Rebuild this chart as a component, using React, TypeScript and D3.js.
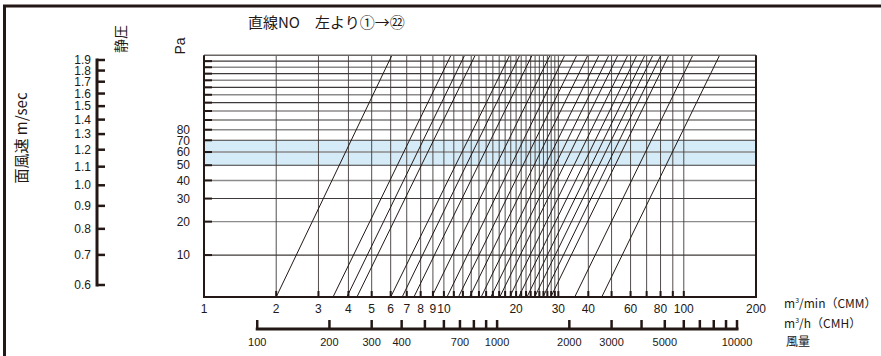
import React from 'react';
import * as d3 from 'd3';

// flow (m3/min) ticks on the bottom axis
const cmmLabels = [1, 2, 3, 4, 5, 6, 7, 8, 9, 10, 20, 30, 40, 60, 80, 100, 200];
const cmmGrid = [
  2, 3, 4, 5, 6, 7, 8, 9, 10, 11, 12, 13, 14, 15, 16, 17, 18, 19, 20,
  21, 22, 23, 24, 25, 26, 27, 28, 29, 30, 40, 50, 60, 70, 80, 90, 100,
];
// m3/h axis
const cmhTicks = [
  100, 200, 300, 400, 500, 600, 700, 800, 900, 1000,
  2000, 3000, 4000, 5000, 6000, 7000, 8000, 9000, 10000,
];
const cmhLabels = [100, 200, 300, 400, 700, 1000, 2000, 3000, 5000, 10000];
// static pressure (Pa)
const paLabels = [10, 20, 30, 40, 50, 60, 70, 80];
const paGrid = [10, 20, 30, 40, 50, 60, 70, 80, 90, 100, 110, 120, 130, 140, 150, 160, 170];
const paBand = [50, 70];
// face velocity (m/sec)
const velTicks = [0.6, 0.7, 0.8, 0.9, 1.0, 1.1, 1.2, 1.3, 1.4, 1.5, 1.6, 1.7, 1.8, 1.9];

// 22 product lines: flow where each line leaves the bottom edge / reaches the top edge
const lineLow = [
  2.0, 3.45, 3.94, 4.34, 6.0, 6.7, 7.5, 8.9, 10.3, 11.5, 12.8,
  14.3, 15.7, 17.1, 18.8, 20.5, 22.2, 23.9, 25.9, 27.9, 35.1, 45.5,
];
const lineHigh = [
  6.07, 10.7, 12.2, 13.5, 18.8, 20.7, 23.3, 27.7, 31.9, 35.8, 39.8,
  44.3, 48.7, 53.1, 58.4, 63.7, 68.8, 74.3, 80.2, 86.6, 109, 141,
];

const W = 881;
const H = 356;
const ink = '#231815';
const font = '"Liberation Sans", Arial, Helvetica, sans-serif';
const cjk = '"Noto Sans CJK JP", "Liberation Sans", sans-serif';

const plot = { left: 204, right: 756, top: 55.3, bottom: 297 };

export default function App() {
  const x = d3.scaleLog().domain([1, 200]).range([plot.left, plot.right]);
  const xCmh = d3.scaleLog().domain([60, 12000]).range([plot.left, plot.right]);
  const y = d3.scalePow().exponent(0.3).domain([3.2, 180]).range([plot.bottom, plot.top]);
  const yVel = d3.scaleLog().domain([0.6, 1.9]).range([285, 60]);

  const diag = d3.line<[number, number]>()
    .x(d => x(d[0]))
    .y(d => y(d[1]));
  const [paMin, paMax] = y.domain();

  const velX = 97;
  const cmhY = 329;

  return (
    <svg width={W} height={H} style={{ position: 'absolute', left: 0, top: 0, background: '#fff' }}>
      {/* outer frame */}
      <line x1={3} x2={W} y1={6} y2={6} stroke={ink} strokeWidth={3} />
      <line x1={4.5} x2={4.5} y1={5} y2={H} stroke={ink} strokeWidth={3} />

      {/* title */}
      <text x={248} y={28} fontFamily={cjk} fontSize={15} fill={ink}>直線NO　左より①→㉒</text>

      {/* rotated axis titles */}
      <text transform="translate(27,138) rotate(-90)" textAnchor="middle" fontFamily={cjk} fontSize={15} fill={ink}>面風速 m/sec</text>
      <text transform="translate(126,39) rotate(-90)" textAnchor="middle" fontFamily={cjk} fontSize={14} fill={ink}>静圧</text>
      <text transform="translate(185,46) rotate(-90)" textAnchor="middle" fontFamily={font} fontSize={14} fill={ink}>Pa</text>

      {/* velocity axis */}
      <g>
        <line x1={velX} x2={velX} y1={yVel(1.9) - 1.5} y2={yVel(0.6) + 1.5} stroke={ink} strokeWidth={3} />
        {velTicks.map(v => (
          <g key={v}>
            <line x1={velX} x2={velX + 8} y1={yVel(v)} y2={yVel(v)} stroke={ink} strokeWidth={2.5} />
            <text x={91} y={yVel(v)} dy="0.35em" textAnchor="end" fontFamily={font} fontSize={12} fill={ink}>
              {v.toFixed(1)}
            </text>
          </g>
        ))}
      </g>

      {/* band 50-70 Pa */}
      <rect x={plot.left} width={plot.right - plot.left} y={y(paBand[1])} height={y(paBand[0]) - y(paBand[1])} fill="#d5ecf8" />

      {/* horizontal grid */}
      {paGrid.map((p, i) => (
        <g key={p}>
          <line x1={plot.left} x2={plot.right} y1={y(p)} y2={y(p)} stroke={i % 2 ? '#8c8a8a' : '#3e3a39'} strokeWidth={i % 2 ? 1.4 : 1.1} />
          <line x1={plot.left} x2={plot.left + 8} y1={y(p)} y2={y(p)} stroke={ink} strokeWidth={2} />
        </g>
      ))}
      {paLabels.map(p => (
        <text key={p} x={190} y={y(p)} dy="0.35em" textAnchor="end" fontFamily={font} fontSize={12} fill={ink}>{p}</text>
      ))}

      {/* vertical grid */}
      {cmmGrid.map(q => (
        <g key={q}>
          <line x1={x(q)} x2={x(q)} y1={plot.top} y2={plot.bottom} stroke="#3e3a39" strokeWidth={0.9} />
          <line x1={x(q)} x2={x(q)} y1={plot.bottom - 6} y2={plot.bottom} stroke={ink} strokeWidth={2} />
        </g>
      ))}

      {/* product lines */}
      {lineLow.map((q, i) => (
        <path key={i} d={diag([[q, paMin], [lineHigh[i], paMax]]) ?? ''} fill="none" stroke={ink} strokeWidth={1} />
      ))}

      {/* plot frame */}
      <line x1={plot.left} x2={plot.right} y1={plot.top} y2={plot.top} stroke="#6a6665" strokeWidth={1.5} />
      <line x1={plot.left} x2={plot.left} y1={plot.top} y2={plot.bottom} stroke={ink} strokeWidth={2} />
      <line x1={plot.right} x2={plot.right} y1={plot.top} y2={plot.bottom} stroke={ink} strokeWidth={2} />
      <line x1={plot.left - 1} x2={plot.right + 1} y1={plot.bottom} y2={plot.bottom} stroke={ink} strokeWidth={2} />

      {/* CMM labels */}
      {cmmLabels.map(q => (
        <text key={q} x={x(q)} y={313} textAnchor="middle" fontFamily={font} fontSize={12} fill={ink}>{q}</text>
      ))}

      {/* CMH axis */}
      <line x1={xCmh(100) - 1.5} x2={xCmh(10000) + 1.5} y1={cmhY} y2={cmhY} stroke={ink} strokeWidth={3} />
      {cmhTicks.map(c => (
        <line key={c} x1={xCmh(c)} x2={xCmh(c)} y1={cmhY} y2={cmhY - 9} stroke={ink} strokeWidth={2.5} />
      ))}
      {cmhLabels.map(c => (
        <text key={c} x={xCmh(c)} y={346} textAnchor="middle" fontFamily={font} fontSize={11} fill={ink}>{c}</text>
      ))}

      {/* unit labels */}
      <text x={784} y={308} fontFamily={cjk} fontSize={12} fill={ink}>
        m<tspan fontSize={7} dy={-5}>3</tspan><tspan dy={5}>/min（CMM）</tspan>
      </text>
      <text x={784} y={328} fontFamily={cjk} fontSize={12} fill={ink}>
        m<tspan fontSize={7} dy={-5}>3</tspan><tspan dy={5}>/h（CMH）</tspan>
      </text>
      <text x={786} y={346} fontFamily={cjk} fontSize={12} fill={ink}>風量</text>
    </svg>
  );
}
